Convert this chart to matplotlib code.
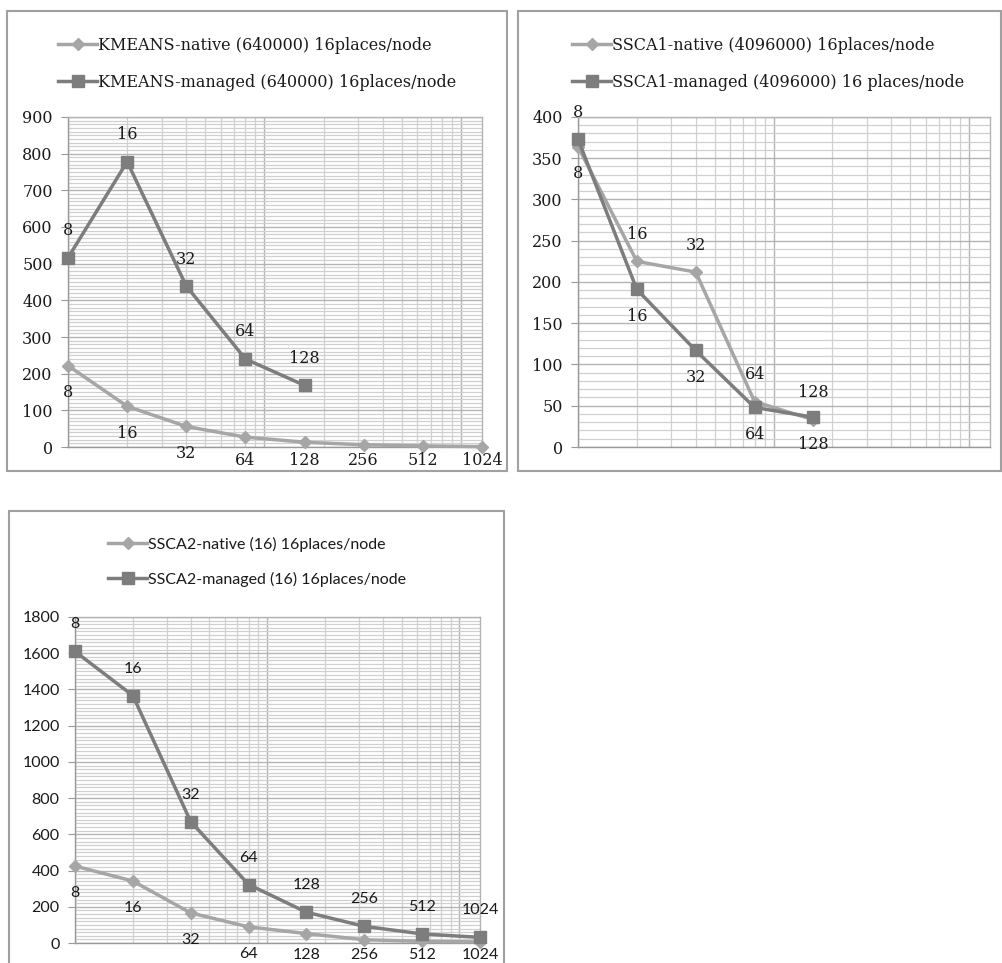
import matplotlib
matplotlib.use('Agg')
import matplotlib.pyplot as plt
from matplotlib.ticker import MultipleLocator, LogLocator, NullFormatter
from matplotlib.lines import Line2D
from matplotlib.patches import Rectangle

# データ (places)
procs = [8, 16, 32, 64, 128, 256, 512, 1024]

kmeans_native = [222, 111, 56, 27, 13, 6, 3, 1]
kmeans_managed = [516, 778, 439, 240, 168]

ssca1_native = [364, 225, 212, 55, 33]
ssca1_managed = [373, 191, 117, 48, 36]

ssca2_native = [425, 342, 166, 89, 52, 18, 9, 6]
ssca2_managed = [1610, 1366, 670, 323, 170, 92, 50, 31]

W, H = 1003, 963
NATIVE_C = '#a6a6a6'
MANAGED_C = '#7d7d7d'
SERIF = 'DejaVu Serif'
SANS = 'Lato'

fig = plt.figure(figsize=(W / 100, H / 100), dpi=100)
fig.patch.set_facecolor('white')


def px_rect(x0, y0, x1, y1):
    # pixel box (top-left origin) -> figure fraction
    return [x0 / W, 1 - y1 / H, (x1 - x0) / W, (y1 - y0) / H]


def draw_chart(axbox, framebox, native, managed, names, ymax, ymaj, ymin_step,
               font, fsize, nat_dirs, man_dirs, leg_x, leg_y, clamp):
    fr = px_rect(*framebox)
    fig.add_artist(Rectangle((fr[0], fr[1]), fr[2], fr[3], transform=fig.transFigure,
                             fill=False, edgecolor='#a0a0a0', lw=1.5))
    ax = fig.add_axes(px_rect(*axbox))
    ax.set_xscale('log')
    ax.set_xlim(1, 128)
    ax.set_ylim(0, ymax)
    ax.xaxis.set_major_locator(LogLocator(base=10))
    ax.xaxis.set_minor_locator(LogLocator(base=10, subs=range(2, 10)))
    ax.xaxis.set_major_formatter(NullFormatter())
    ax.xaxis.set_minor_formatter(NullFormatter())
    ax.yaxis.set_major_locator(MultipleLocator(ymaj))
    ax.yaxis.set_minor_locator(MultipleLocator(ymin_step))
    ax.grid(True, which='major', color='#b4b4b4', lw=1.0)
    ax.grid(True, which='minor', color='#d0d0d0', lw=0.9)
    ax.set_axisbelow(True)
    for s in ax.spines.values():
        s.set_color('#b4b4b4')
        s.set_linewidth(1.0)
    ax.spines['bottom'].set_color('#999999')
    ax.spines['left'].set_color('#999999')
    ax.tick_params(axis='x', which='both', length=0)
    ax.tick_params(axis='y', which='major', length=5, color='#999999', pad=6,
                   labelsize=fsize, labelcolor='#1a1a1a', labelfontfamily=font)
    ax.tick_params(axis='y', which='minor', length=0)

    xs_n = [p / 8 for p in procs[:len(native)]]
    xs_m = [p / 8 for p in procs[:len(managed)]]
    ax.plot(xs_n, native, color=NATIVE_C, lw=2.5, marker='D', ms=6,
            zorder=3, clip_on=False)
    ax.plot(xs_m, managed, color=MANAGED_C, lw=2.5, marker='s', ms=9,
            zorder=4, clip_on=False)

    # data labels (Excel style, kept inside the chart area)
    inv = fig.transFigure.inverted()
    for xs, ys, dirs in ((xs_n, native, nat_dirs), (xs_m, managed, man_dirs)):
        for i, (x, y) in enumerate(zip(xs, ys)):
            dx, dy = ax.transData.transform((x, y))
            ytop = H - dy + (27 if dirs[i] == 'below' else -27)
            ytop = min(ytop, clamp)
            fx, fy = inv.transform((dx, H - ytop))
            fig.text(fx, fy, str(procs[i]), ha='center', va='center',
                     fontsize=fsize, family=font, color='#1a1a1a')

    handles = [Line2D([], [], color=NATIVE_C, lw=2.5, marker='D', ms=6),
               Line2D([], [], color=MANAGED_C, lw=2.5, marker='s', ms=8)]
    fig.legend(handles, names, loc='center left',
               bbox_to_anchor=(leg_x / W, 1 - leg_y / H),
               frameon=False, borderpad=0, borderaxespad=0,
               handlelength=2.45, handletextpad=0.05, labelspacing=1.25,
               prop={'family': font, 'size': fsize}, labelcolor='#1a1a1a')
    return ax


draw_chart((68, 117, 482, 447), (7, 11, 507, 471), kmeans_native, kmeans_managed,
           ['KMEANS-native (640000) 16places/node',
            'KMEANS-managed (640000) 16places/node'],
           900, 100, 10, SERIF, 11.5,
           ['below'] * 8, ['above'] * 5, 58, 64, 460)

draw_chart((578, 117, 990, 447), (518, 11, 1001, 471), ssca1_native, ssca1_managed,
           ['SSCA1-native (4096000) 16places/node',
            'SSCA1-managed (4096000) 16 places/node'],
           400, 50, 10, SERIF, 11.5,
           ['below', 'above', 'above', 'above', 'above'],
           ['above', 'below', 'below', 'below', 'below'], 572, 64, 460)

draw_chart((75, 617, 480, 943), (9, 511, 504, 975), ssca2_native, ssca2_managed,
           ['SSCA2-native (16) 16places/node',
            'SSCA2-managed (16) 16places/node'],
           1800, 200, 20, SANS, 11.5,
           ['below'] * 8, ['above'] * 8, 108, 562, 955)

fig.savefig('out.png', dpi=100, facecolor='white')
